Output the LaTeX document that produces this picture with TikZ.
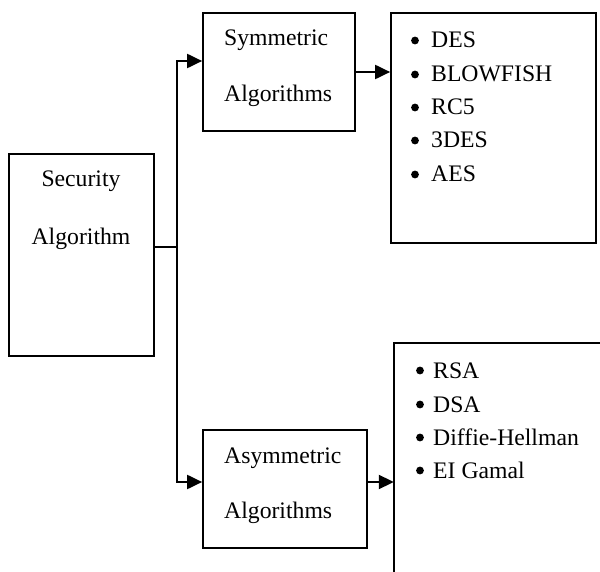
\documentclass[tikz,border=0pt]{standalone}
\usepackage{fontspec}
\setmainfont{Liberation Serif}
\usetikzlibrary{arrows.meta}
\begin{document}
\begin{tikzpicture}[x=1pt,y=-1pt,
  box/.style={draw, line width=1.7pt, inner sep=0pt},
  ghost/.style={inner sep=0pt},
  conn/.style={line width=2pt},
  arrow/.style={line width=2pt, -{Triangle[length=15pt,width=14pt]}},
  lbl/.style={inner sep=0pt, font=\fontsize{23.7}{28}\selectfont},
  item/.style={inner sep=0pt, anchor=base west, font=\fontsize{23.7}{28}\selectfont},
  dot/.style={radius=3.9pt}]
\useasboundingbox (0,0) rectangle (600,572);
\fill[white] (0,0) rectangle (600,572);
% boxes
\node[box, minimum width=145pt, minimum height=202pt] (sec) at (81.5,255) {};
\node[box, minimum width=152pt, minimum height=118pt] (sym) at (279,72) {};
\node[box, minimum width=164pt, minimum height=118pt] (asy) at (285,489) {};
\node[box, minimum width=205pt, minimum height=230pt] (l1) at (493.5,128) {};
\node[ghost, minimum width=216pt, minimum height=257pt] (l2) at (502,471.5) {};
\draw[line width=1.7pt] (l2.north east) -- (l2.north west) -- (l2.south west);
% texts
\node[lbl, anchor=base] (t1) at (81,187) {Security};
\node[lbl, anchor=base] (t2) at (81,245) {Algorithm};
\node[lbl, anchor=base west] (t3) at (224,46) {Symmetric};
\node[lbl, anchor=base west] (t4) at (224,102) {Algorithms};
\node[lbl, anchor=base west] (t5) at (224,463) {Asymmetric};
\node[lbl, anchor=base west] (t6) at (224,518) {Algorithms};
% lists
\node[item] (a1) at (431,48) {DES};
\node[item] (a2) at (431,82) {BLOWFISH};
\node[item] (a3) at (431,115) {RC5};
\node[item] (a4) at (431,148) {3DES};
\node[item] (a5) at (431,182) {AES};
\foreach \n in {a1,a2,a3,a4,a5}
  \fill[dot] ([shift={(-16,-7.5)}]\n.base west) circle;
\node[item] (b1) at (433,378) {RSA};
\node[item] (b2) at (433,412) {DSA};
\node[item] (b3) at (433,445) {Diffie-Hellman};
\node[item] (b4) at (433,478) {EI Gamal};
\foreach \n in {b1,b2,b3,b4}
  \fill[dot] ([shift={(-13,-7.5)}]\n.base west) circle;
% connectors
\coordinate (j) at (177,247);
\coordinate (ja) at (177,61);
\coordinate (jb) at (177,482);
\draw[conn] (sec.east |- j) -- (j);
\draw[arrow] (j) -- (ja) -- (sym.west |- ja);
\draw[arrow] (j) -- (jb) -- (asy.west |- jb);
\draw[arrow] (sym.east) -- (sym.east -| l1.west);
\draw[arrow] (asy.east |- jb) -- (jb -| l2.west);
\end{tikzpicture}
\end{document}
